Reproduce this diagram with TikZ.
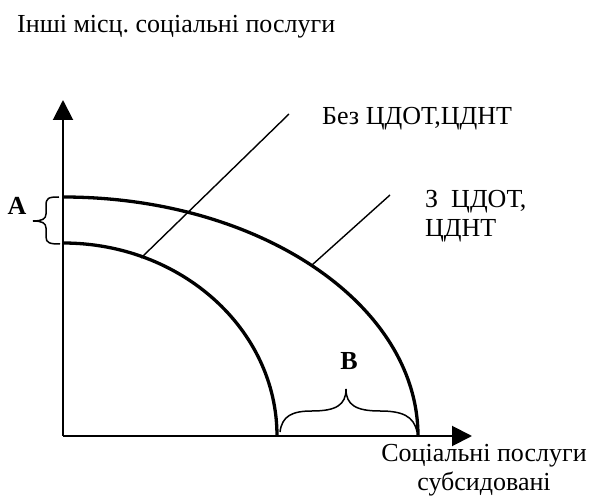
\documentclass[tikz,border=0pt]{standalone}
\usepackage{fontspec}
\setmainfont{Liberation Serif}
\usetikzlibrary{arrows.meta}
\frenchspacing
\begin{document}
\begin{tikzpicture}[x=1pt,y=-1pt,
  lbl/.style={inner sep=0pt,font=\fontsize{26}{29}\selectfont},
  bold/.style={inner sep=0pt,font=\fontsize{26}{29}\selectfont\bfseries},
  axis/.style={line width=2pt,-{Triangle[length=20pt,width=20pt]}},
  curve/.style={line width=3.3pt},
  leader/.style={line width=1.4pt},
  brc/.style={line width=1.5pt}]
\useasboundingbox (0,0) rectangle (606,497);
\coordinate (O) at (63,436);
\coordinate (ytip) at (63,100);
\coordinate (xtip) at (472,436);
\draw[axis] (O) -- (ytip);
\draw[axis] (O) -- (xtip);
% curves
\draw[curve] (63,197) arc[start angle=270,end angle=360,x radius=355,y radius=239];
\draw[curve] (63,243) arc[start angle=270,end angle=360,x radius=214,y radius=193];
% leader lines
\coordinate (l1a) at (141,258);
\coordinate (l1b) at (289,114);
\coordinate (l2a) at (312,265);
\coordinate (l2b) at (390,195);
\draw[leader] (l1a) -- (l1b);
\draw[leader] (l2a) -- (l2b);
% labels
\node[lbl,anchor=base west] (title) at (17,33) {Інші місц. соціальні послуги};
\node[lbl,anchor=base west] (bez) at (322,125) {Без ЦДОТ,ЦДНТ};
\node[lbl,anchor=base west,align=left] (z) at (425,237) {З\ \ ЦДОТ,\\ЦДНТ};
\node[lbl,anchor=base,align=center] (xl) at (484,490) {Соціальні послуги\\субсидовані};
\node[bold,anchor=base] (A) at (17,215) {A};
\node[bold,anchor=base] (B) at (349,370) {B};
% braces
\draw[brc] (59,197) .. controls (48,197) and (46,198) .. (46,206)
  -- (46,214) .. controls (46,219) and (42,221) .. (33,221)
  .. controls (42,221) and (46,223) .. (46,228)
  -- (46,237) .. controls (46,243) and (50,244) .. (60,244);
\draw[brc] (280,432) .. controls (282,416) and (292,411) .. (312,411)
  .. controls (336,411) and (346,405) .. (346,389)
  .. controls (346,405) and (356,411) .. (380,411)
  .. controls (402,411) and (414,416) .. (417,432);
\end{tikzpicture}
\end{document}
